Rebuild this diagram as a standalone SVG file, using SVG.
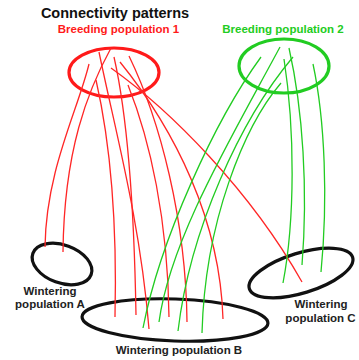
<svg xmlns="http://www.w3.org/2000/svg" width="359" height="360" viewBox="0 0 359 360">
<style>
text{font-family:"Liberation Sans",Arial,sans-serif;font-weight:bold;text-anchor:middle}
.lbl{font-size:11.5px;fill:#222}
.title{font-size:14.5px;fill:#111}
.ring{fill:none;stroke-width:3.2}
.r{fill:none;stroke:#ff2626;stroke-width:1.3}
.g{fill:none;stroke:#22cc22;stroke-width:1.3}
</style>
<rect width="359" height="360" fill="#fff"/>
<g id="title"><text class="title" x="115" y="18">Connectivity patterns</text></g>
<g id="breeding1">
<ellipse class="ring" cx="114" cy="72.5" rx="45" ry="24.5" stroke="#ff1a1a"/>
<text class="lbl" x="118.5" y="33" style="fill:#ff1a1a">Breeding population 1</text>
</g>
<g id="breeding2">
<ellipse class="ring" cx="284" cy="66" rx="45" ry="27" stroke="#22cc22"/>
<text class="lbl" x="283" y="33" style="fill:#22cc22">Breeding population 2</text>
</g>
<g id="winterA">
<ellipse class="ring" cx="62" cy="264" rx="31" ry="19" transform="rotate(20 62 264)" stroke="#111"/>
<text class="lbl" x="50" y="295">Wintering</text>
<text class="lbl" x="50" y="308">population A</text>
</g>
<g id="winterB">
<ellipse class="ring" cx="175" cy="320" rx="93" ry="21" transform="rotate(2 175 320)" stroke="#111"/>
<text class="lbl" x="179" y="354">Wintering population B</text>
</g>
<g id="winterC">
<ellipse class="ring" cx="301" cy="273" rx="54" ry="20" transform="rotate(-17 301 273)" stroke="#111"/>
<text class="lbl" x="321" y="308">Wintering</text>
<text class="lbl" x="320.5" y="322">population C</text>
</g>
<g id="connectors">
<path class="r" d="M89,64 C78,110 46,170 45,247"/>
<path class="r" d="M111,48 C88,90 64,150 63,252"/>
<path class="r" d="M96,80 C112,150 117,230 115,317"/>
<path class="r" d="M99,52 C115,130 140,220 149,329"/>
<path class="r" d="M114,57 C126,110 134,200 136,315"/>
<path class="r" d="M128,85 C150,140 168,220 169,317"/>
<path class="r" d="M129,56 C160,120 186,220 187,322"/>
<path class="r" d="M120,62 C175,130 220,220 223,319"/>
<path class="r" d="M111,68 C170,110 250,190 302,282"/>
<path class="g" d="M261,57 C215,120 160,240 143,328"/>
<path class="g" d="M280,47 C230,140 170,240 159,322"/>
<path class="g" d="M293,57 C240,120 190,230 178,331"/>
<path class="g" d="M281,83 C245,125 205,220 202,333"/>
<path class="g" d="M284,59 C295,130 295,220 283,283"/>
<path class="g" d="M289,48 C303,110 308,190 302,265"/>
<path class="g" d="M313,64 C325,120 328,200 321,272"/>
</g>
</svg>
